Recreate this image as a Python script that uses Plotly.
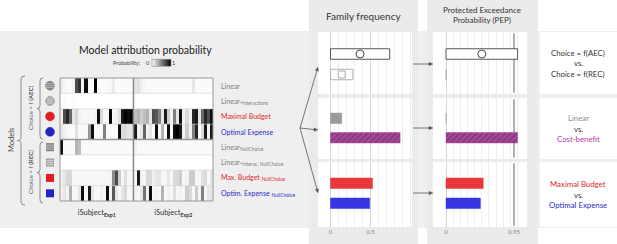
import math
import plotly.graph_objects as go

W, H = 617, 244
FONT = "Lato"

# ---------------- data ----------------
model_names = ["Linear", "Linear<sub>+interactions</sub>", "Maximal Budget", "Optimal Expense",
               "Linear<sub>NullChoice</sub>", "Linear<sub>+interac, NullChoice</sub>",
               "Max. Budget <sub>NullChoice</sub>", "Optim. Expense <sub>NullChoice</sub>"]
model_colors = ["#7f7f7f", "#7f7f7f", "#e0282e", "#2b2bc8",
                "#7f7f7f", "#7f7f7f", "#e0282e", "#2b2bc8"]
subject_labels = ["iSubject<sub><b>Exp1</b></sub>", "iSubject<sub><b>Exp2</b></sub>"]
n_exp1 = 24
n_exp2 = 26

p_linear = [0.08, 0.03, 0.02, 0.02, 0.05, 0.7, 0.8, 0.05, 0.95, 0.02, 0.02, 1.0, 0.02, 0.02, 0.02, 0.02,
            0.03, 0.08, 0.02, 0.02, 0.02, 0.02, 0.02, 0.02,
            0.1, 0.12, 0.06, 0.03, 0.02, 0.02, 0.02, 0.02, 0.02, 0.02, 0.02, 0.02, 0.02, 0.02, 0.02, 0.02,
            0.02, 0.02, 0.02, 0.1, 0.02, 0.02, 0.02, 0.02, 0.02, 0.02]
p_linear_int = [0.01, 0.01, 0.0, 0.0, 0.01, 0.0, 0.0, 0.0, 0.0, 0.0, 0.0, 0.0, 0.0, 0.0, 0.0, 0.0,
                0.0, 0.0, 0.0, 0.0, 0.0, 0.0, 0.0, 0.0,
                0.01, 0.0, 0.0, 0.0, 0.0, 0.0, 0.0, 0.0, 0.0, 0.0, 0.0, 0.0, 0.0, 0.0, 0.0, 0.0,
                0.0, 0.0, 0.0, 0.0, 0.0, 0.0, 0.0, 0.0, 0.0, 0.0]
p_max_budget = [0.05, 0.7, 0.85, 0.6, 0.1, 0.15, 0.05, 0.03, 0.03, 0.03, 0.03, 0.05, 0.95, 0.15, 0.03, 0.03,
                1.0, 0.03, 0.05, 0.12, 0.9, 1.0, 0.95, 1.0,
                0.25, 0.3, 0.2, 0.25, 0.3, 0.1, 0.7, 0.65, 0.5, 0.1, 0.9, 0.2, 0.05, 0.5, 0.1, 0.95,
                0.05, 0.15, 0.05, 0.85, 0.9, 0.1, 0.6, 0.85, 0.7, 0.95]
p_opt_expense = [0.1, 0.05, 0.02, 0.02, 0.02, 0.12, 0.02, 0.02, 0.02, 0.4, 0.95, 0.02, 0.02, 0.02, 0.5, 0.02,
                 0.02, 0.02, 0.02, 0.95, 0.15, 0.15, 0.1, 0.1,
                 0.9, 0.05, 0.1, 0.6, 0.05, 0.1, 0.02, 0.95, 0.02, 0.3, 0.02, 0.95, 0.02, 0.95, 1.0, 0.9,
                 0.05, 0.2, 0.05, 0.5, 0.85, 0.02, 0.15, 0.9, 0.05, 0.9]
p_linear_nc = [0.95, 0.02, 0.02, 0.02, 0.02, 0.3, 0.25, 0.02, 0.02, 0.02, 0.02, 0.02, 0.02, 0.02, 0.02, 0.02,
               0.02, 0.02, 0.02, 0.02, 0.02, 0.02, 0.02, 0.02,
               0.05, 0.02, 0.02, 0.02, 0.02, 0.02, 0.02, 0.02, 0.02, 0.02, 0.02, 0.02, 0.02, 0.02, 0.02, 0.02,
               0.02, 0.02, 0.02, 0.02, 0.02, 0.02, 0.02, 0.02, 0.02, 0.02]
p_linear_int_nc = [0.0, 0.0, 0.0, 0.0, 0.0, 0.0, 0.0, 0.0, 0.0, 0.0, 0.0, 0.0, 0.0, 0.0, 0.0, 0.0,
                   0.0, 0.0, 0.0, 0.0, 0.0, 0.0, 0.0, 0.0,
                   0.0, 0.0, 0.0, 0.0, 0.0, 0.0, 0.0, 0.0, 0.0, 0.0, 0.0, 0.0, 0.0, 0.0, 0.0, 0.0,
                   0.0, 0.0, 0.0, 0.0, 0.0, 0.0, 0.0, 0.0, 0.0, 0.0]
p_max_budget_nc = [0.05, 0.1, 0.15, 0.15, 0.03, 0.03, 0.03, 0.03, 0.03, 0.03, 0.03, 0.03, 0.03, 0.03, 0.03, 0.03,
                   0.05, 0.45, 0.7, 0.2, 0.03, 0.12, 0.03, 0.03,
                   0.03, 0.9, 0.05, 0.03, 0.15, 0.15, 0.05, 0.1, 0.1, 0.03, 0.03, 0.1, 0.03, 0.15, 0.15, 0.2,
                   0.03, 0.05, 0.2, 0.2, 0.03, 0.03, 0.12, 0.15, 0.03, 0.1]
p_opt_expense_nc = [0.05, 0.1, 0.05, 0.3, 0.03, 0.03, 0.1, 0.95, 0.03, 0.9, 0.1, 0.03, 0.03, 0.05, 0.03, 0.95,
                    0.05, 0.65, 0.1, 0.03, 0.1, 0.15, 0.03, 0.03,
                    0.05, 0.03, 0.1, 0.55, 0.05, 0.95, 0.03, 0.05, 0.03, 0.3, 0.03, 0.05, 0.03, 0.12, 0.03, 0.05,
                    0.03, 0.2, 0.15, 0.03, 0.2, 0.03, 0.5, 0.03, 0.1, 0.1]

# family comparisons: top bar / bottom bar for each of the three rows
ff_top = [0.74, 0.14, 0.525]      # Choice=f(AEC), Linear, Maximal Budget
ff_bottom = [0.28, 0.87, 0.49]    # Choice=f(REC), Cost-benefit, Optimal Expense
pep_top = [1.0, 0.0, 0.52]
pep_bottom = [0.005, 1.0, 0.48]
pep_threshold = 0.95
ff_ticks = [0, 0.5]
pep_ticks = [0, 0.95]
grid_minor = [0.1, 0.2, 0.3, 0.4, 0.6, 0.7, 0.8, 0.9, 1.0]
pep_minor = [0.1, 0.2, 0.3, 0.4, 0.5, 0.6, 0.7, 0.8, 0.9, 1.0]

comparison_lines = [
    [("Choice = f(AEC)", "#333333"), ("vs.", "#333333"), ("Choice = f(REC)", "#333333")],
    [("Linear", "#8f8f8f"), ("vs.", "#333333"), ("Cost-benefit", "#b03ca4")],
    [("Maximal Budget", "#e0282e"), ("vs.", "#333333"), ("Optimal Expense", "#2b2bc8")],
]

# ---------------- helpers ----------------
def px(x):
    return x / W

def py(y):
    return 1 - y / H

fig = go.Figure()
shapes = []
annotations = []

def rect(x0, y0, x1, y1, fill, line=None, lw=0, layer="below"):
    shapes.append(dict(type="rect", xref="paper", yref="paper", x0=px(x0), x1=px(x1), y0=py(y1), y1=py(y0),
                       fillcolor=fill, line=dict(color=line or fill, width=lw), layer=layer))

def pline(x0, y0, x1, y1, color, w=1, layer="above"):
    shapes.append(dict(type="line", xref="paper", yref="paper", x0=px(x0), x1=px(x1), y0=py(y0), y1=py(y1),
                       line=dict(color=color, width=w), layer=layer))

def text(x, y, s, size=8, color="#333", angle=0, xanchor="center", yanchor="middle"):
    annotations.append(dict(x=px(x), y=py(y), xref="paper", yref="paper", text=s, showarrow=False,
                            textangle=angle, xanchor=xanchor, yanchor=yanchor,
                            font=dict(size=size, color=color, family=FONT)))

P = lambda x, y: f"{px(x):.5f},{py(y):.5f}"

def arrow(x0, y0, x1, y1, color="#555"):
    L = math.hypot(x1 - x0, y1 - y0)
    ux, uy = (x1 - x0) / L, (y1 - y0) / L
    hl, hw = 4.0, 1.8
    bx, by = x1 - ux * hl, y1 - uy * hl
    pline(x0, y0, bx, by, color, 0.8)
    path = (f"M {P(x1, y1)} L {P(bx - uy * hw, by + ux * hw)} L {P(bx + uy * hw, by - ux * hw)} Z")
    shapes.append(dict(type="path", xref="paper", yref="paper", path=path, fillcolor=color,
                       line=dict(color=color, width=0.3), layer="above"))

def brace(xb, y0, y1, w):
    ym = (y0 + y1) / 2
    r = 3
    path = (f"M {P(xb + w, y0)} Q {P(xb, y0)} {P(xb, y0 + r)} L {P(xb, ym - r)} "
            f"Q {P(xb, ym)} {P(xb - w, ym)} Q {P(xb, ym)} {P(xb, ym + r)} L {P(xb, y1 - r)} "
            f"Q {P(xb, y1)} {P(xb + w, y1)}")
    shapes.append(dict(type="path", xref="paper", yref="paper", path=path,
                       line=dict(color="#8a8a8a", width=1), layer="above"))

# ---------------- backgrounds ----------------
rect(0, 31, 617, 228, "#efefef")
rect(309, 0, 418, 244, "#ebebeb")
rect(427, 0, 538, 244, "#ebebeb")
panel_rows = [(32, 94, 54, 74.5), (98, 159, 118.3, 137.7), (162, 227, 183.3, 203.3)]
for (t, b, c1, c2) in panel_rows:
    rect(318, t, 412, b, "white")
    rect(433, t, 527, b, "white")
    rect(540, t, 617, b, "white")

# ---------------- heatmap ----------------
z = [p_linear, p_linear_int, p_max_budget, p_opt_expense,
     p_linear_nc, p_linear_int_nc, p_max_budget_nc, p_opt_expense_nc]
ncol = n_exp1 + n_exp2
fig.add_trace(go.Heatmap(
    z=z, x=list(range(ncol)), y=list(range(len(z))), zmin=0, zmax=1,
    colorscale=[[0, "#ffffff"], [1, "#000000"]], xaxis="x", yaxis="y", hoverinfo="skip",
    colorbar=dict(orientation="h", x=px(161), xanchor="center", y=py(63.5), yanchor="middle",
                  len=19, lenmode="pixels", thickness=7, thicknessmode="pixels",
                  showticklabels=False, ticks="", outlinewidth=0.6, outlinecolor="#888",
                  xpad=0, ypad=0)))

hx0, hx1, hy0, hy1 = 60, 213, 78, 201
layout_axes = {}
layout_axes["xaxis"] = dict(domain=[px(hx0), px(hx1)], range=[-0.5, ncol - 0.5], anchor="y",
                            showgrid=False, zeroline=False, ticks="outside", ticklen=4,
                            tickcolor="rgba(0,0,0,0)",
                            tickvals=[(n_exp1 - 1) / 2, n_exp1 + (n_exp2 - 1) / 2],
                            ticktext=subject_labels, tickfont=dict(size=7.5, color="#333", family=FONT))
layout_axes["yaxis"] = dict(domain=[py(hy1), py(hy0)], range=[len(z) - 0.5, -0.5], anchor="x",
                            showgrid=False, zeroline=False, showticklabels=False, ticks="")

# model labels at the right of each heatmap row
for i, (name, colr) in enumerate(zip(model_names, model_colors)):
    annotations.append(dict(x=1, xref="x domain", y=i, yref="y", text=name, showarrow=False,
                            xanchor="left", yanchor="middle", xshift=6,
                            font=dict(size=7, color=colr, family=FONT)))

# heatmap lines
for k in range(1, len(z)):
    shapes.append(dict(type="line", xref="x domain", yref="y", x0=0, x1=1, y0=k - 0.5, y1=k - 0.5,
                       line=dict(color="#999" if k == 4 else "#d4d4d4", width=1.3 if k == 4 else 0.6),
                       layer="above"))
shapes.append(dict(type="line", xref="x", yref="y domain", x0=n_exp1 - 0.5, x1=n_exp1 - 0.5, y0=0, y1=1,
                   line=dict(color="#8a8a8a", width=1.5), layer="above"))
shapes.append(dict(type="rect", xref="x domain", yref="y domain", x0=0, x1=1, y0=0, y1=1,
                   line=dict(color="#999", width=1), layer="above"))

# icons
row_h = (hy1 - hy0) / len(z)
icon_x = 50
for i in range(len(z)):
    yc = hy0 + row_h * (i + 0.5)
    if i < 4:
        col = ["#7c7c7c", "#8c8c8c", "#e02020", "#2424c0"][i]
        r = 4.5
        shapes.append(dict(type="circle", xref="paper", yref="paper", x0=px(icon_x - r), x1=px(icon_x + r),
                           y0=py(yc + r), y1=py(yc - r), fillcolor=col, line=dict(color=col, width=0.5),
                           layer="above"))
        if i < 2:
            for dy in (-2, 0, 2):
                hl = (r * r - dy * dy) ** 0.5
                pline(icon_x - hl, yc + dy, icon_x + hl, yc + dy, "#e0e0e0", 0.7)
            if i == 1:
                for dx in (-2, 0, 2):
                    hl = (r * r - dx * dx) ** 0.5
                    pline(icon_x + dx, yc - hl, icon_x + dx, yc + hl, "#e0e0e0", 0.7)
    else:
        col = ["#7c7c7c", "#8c8c8c", "#e02020", "#2424c0"][i - 4]
        s = 4
        rect(icon_x - s, yc - s, icon_x + s, yc + s, col, layer="above")
        if i < 6:
            for dy in (-2, 0, 2):
                pline(icon_x - s, yc + dy, icon_x + s, yc + dy, "#e0e0e0", 0.7)
            if i == 5:
                for dx in (-2, 0, 2):
                    pline(icon_x + dx, yc - s, icon_x + dx, yc + s, "#e0e0e0", 0.7)

# braces
brace(21, 76, 205, 4)
brace(40, 78, 139, 3)
brace(40, 142, 203, 3)

text(145, 50, "Model attribution probability", 10.5, "#222")
text(143, 63.5, "Probability:", 5.5, "#444", xanchor="right")
text(147.5, 63.5, "0", 5.5, "#444")
text(174, 63.5, "1", 5.5, "#444")
text(30, 108, "Choice = f (<b>AEC</b>)", 6.2, "#555", angle=-90)
text(30, 172, "Choice = f (<b>REC</b>)", 6.2, "#555", angle=-90)
text(11, 140, "Models", 7.5, "#444", angle=-90)

# ---------------- family frequency and PEP ----------------
text(363.5, 16, "Family frequency", 10, "#333")
text(482, 15.5, "Protected Exceedance<br>Probability (PEP)", 8, "#333")

ff_range = [(318 - 330.5) / 80, (412 - 330.5) / 80]
pep_scale = (514 - 446) / 0.95
pep_range = [(433 - 446) / pep_scale, (527 - 446) / pep_scale]

bar_styles_top = [dict(color="white", line=dict(color="#555", width=1)),
                  dict(color="#9a9a9a", line=dict(color="#9a9a9a", width=0.5)),
                  dict(color="#e8383c", line=dict(color="#e8383c", width=0.5))]
bar_styles_bottom = [dict(color="white", line=dict(color="#b0b0b0", width=1)),
                     dict(color="#a44a98", line=dict(color="#a44a98", width=0.5),
                          pattern=dict(shape="/", fgcolor="#6a1e5e", bgcolor="#a44a98", size=4, solidity=0.4)),
                     dict(color="#3636e0", line=dict(color="#3636e0", width=0.5))]

for i, (t, b, c1, c2) in enumerate(panel_rows):
    scale = c2 - c1
    yr = [-(b - c2) / scale, 1 + (c1 - t) / scale]
    bw = 10.5 / scale
    for j, (vals_top, vals_bot, xr, ticks, minor) in enumerate(
            [(ff_top, ff_bottom, ff_range, ff_ticks, grid_minor),
             (pep_top, pep_bottom, pep_range, pep_ticks, pep_minor)]):
        n = 2 + i + 3 * j
        xa, ya = f"x{n}", f"y{n}"
        x0p = 318 if j == 0 else 433
        fig.add_trace(go.Bar(x=[vals_top[i]], y=[1], base=0, orientation="h", width=bw,
                             marker=bar_styles_top[i], xaxis=xa, yaxis=ya, hoverinfo="skip"))
        fig.add_trace(go.Bar(x=[vals_bot[i]], y=[0], base=0, orientation="h", width=bw,
                             marker=bar_styles_bottom[i], xaxis=xa, yaxis=ya, hoverinfo="skip"))
        if i == 0:
            fig.add_trace(go.Scatter(x=[vals_top[i] / 2], y=[1], mode="markers", xaxis=xa, yaxis=ya,
                                     marker=dict(symbol="circle", size=8, color="white",
                                                 line=dict(color="#444", width=1)), hoverinfo="skip"))
            if j == 0:
                fig.add_trace(go.Scatter(x=[vals_bot[i] / 2], y=[0], mode="markers", xaxis=xa, yaxis=ya,
                                         marker=dict(symbol="square", size=7, color="white",
                                                     line=dict(color="#aaa", width=1)), hoverinfo="skip"))
        layout_axes[f"xaxis{n}"] = dict(
            domain=[px(x0p), px(x0p + 94)], range=xr, anchor=ya, tickvals=ticks,
            ticktext=[str(v) for v in ticks], showticklabels=(i == 2), ticks="",
            tickfont=dict(size=6, color="#888", family=FONT),
            showgrid=(j == 0), gridcolor="#d6d6d6", gridwidth=1,
            zeroline=(j == 1), zerolinecolor="#d6d6d6", zerolinewidth=1,
            minor=dict(tickvals=minor, showgrid=True, gridcolor="#eeeeee", gridwidth=1, ticks=""),
            fixedrange=True)
        layout_axes[f"yaxis{n}"] = dict(domain=[py(b), py(t)], range=yr, anchor=xa, visible=False,
                                        showgrid=False, zeroline=False)
        if j == 1:
            shapes.append(dict(type="line", xref=xa, yref=f"{ya} domain", x0=pep_threshold, x1=pep_threshold,
                               y0=0.02, y1=0.98, line=dict(color="#7a7a7a", width=1.2), layer="below"))
    arrow(300, 128, 318, [67, 130, 193][i])
    arrow(413, [64, 128, 193][i], 433, [64, 128, 193][i])
    ymid = (t + b) / 2
    for k, (s, colr) in enumerate(comparison_lines[i]):
        text(578, ymid + (k - 1) * 10.5, s, 7.8, colr)

fig.update_layout(
    width=W, height=H, autosize=False, margin=dict(l=0, r=0, t=0, b=0, pad=0),
    paper_bgcolor="white", plot_bgcolor="rgba(0,0,0,0)", showlegend=False, barmode="overlay",
    font=dict(family=FONT, color="#333"), shapes=shapes, annotations=annotations, **layout_axes)

fig.write_html("out.html", config={"displayModeBar": False},
               post_script="document.body.style.margin='0';document.body.style.overflow='hidden';")
